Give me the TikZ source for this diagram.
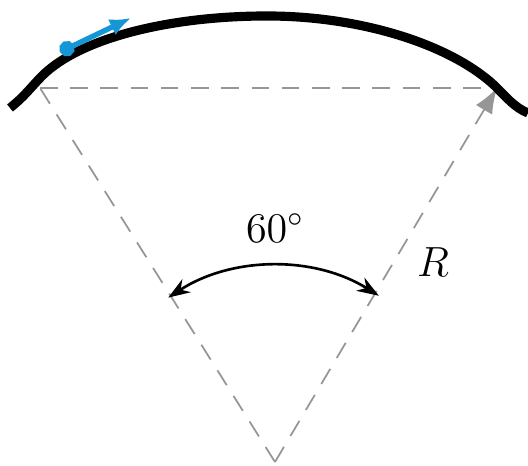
\documentclass[tikz,border=0pt]{standalone}
\usepackage{amsmath,amssymb}
\usepackage{tikz}
\usetikzlibrary{arrows.meta}

\definecolor{arrowblue}{RGB}{20,150,215}
\definecolor{guidegray}{RGB}{150,150,150}

\begin{document}
\begin{tikzpicture}[
    guide/.style={draw=guidegray, line width=0.5pt, dash pattern=on 5pt off 3.6pt},
    anglearrow/.style={line width=0.75pt, {Stealth[length=6.2pt,width=4.4pt]}-{Stealth[length=6.2pt,width=4.4pt]}}
  ]
    \useasboundingbox (0,0) rectangle (5.28,4.66);
    % apex and ends of the two radii
    \coordinate (O) at (2.75,0.04);
    \coordinate (A) at (0.40,3.78);
    \coordinate (B) at (4.97,3.78);
    \draw[guide] (A) -- (B);
    \draw[guide] (O) -- (A);
    \draw[guide, -{Latex[length=7.2pt,width=5.4pt]}, guidegray] (O) -- (B);
    % the road
    \coordinate (roadL) at (0.10,3.58);
    \coordinate (P1) at (0.42,3.90);
    \coordinate (top) at (2.67,4.50);
    \coordinate (P2) at (4.95,3.80);
    \coordinate (roadR) at (5.28,3.53);
    \draw[line width=2.6pt] (roadL) .. controls (0.25,3.70) and (0.32,3.80) .. (P1)
      .. controls (0.80,4.28) and (1.70,4.50) .. (top)
      .. controls (3.60,4.50) and (4.50,4.22) .. (P2)
      .. controls (5.05,3.70) and (5.15,3.58) .. (roadR);
    % the car
    \coordinate (car) at (0.60,4.14);
    \coordinate (carhead) at (1.31,4.48);
    \draw[arrowblue, line width=1.5pt, {Circle[length=4.4pt]}-{Latex[length=6pt,width=5pt]}] (car) -- (carhead);
    % the angle
    \draw[anglearrow] ([shift={(123:1.96)}]O) arc (123:58:1.96);
    \node[font=\fontsize{12}{14}\selectfont] (ang) at (2.75,2.38) {$60^\circ$};
    \node[font=\fontsize{11.5}{14}\selectfont] (rad) at (4.33,2.04) {$R$};
  \end{tikzpicture}
\end{document}
